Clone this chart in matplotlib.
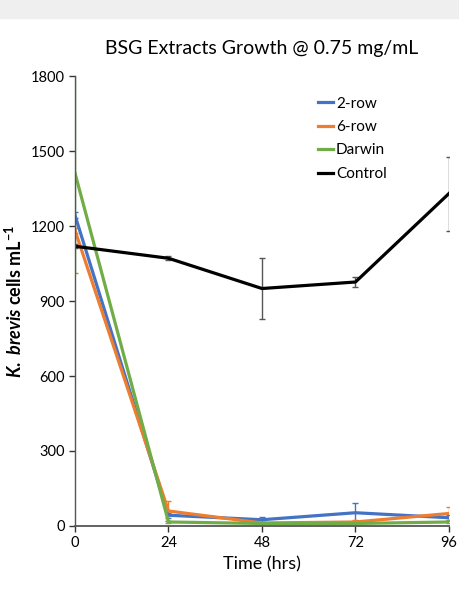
import numpy as np
import matplotlib
matplotlib.use("Agg")
import matplotlib.pyplot as plt
from matplotlib.patches import Rectangle
from matplotlib.lines import Line2D

plt.rcParams["font.family"] = ["Lato", "DejaVu Sans"]
plt.rcParams["mathtext.fontset"] = "custom"
plt.rcParams["mathtext.rm"] = "Lato:bold"
plt.rcParams["mathtext.it"] = "Lato:italic:bold"

hours = [0, 24, 48, 72, 96]

row2 = [1243, 43, 25, 53, 33]
row2_err = [12, 10, 11, 37, 10]
row6 = [1183, 60, 12, 16, 50]
row6_err = [10, 40, 5, 6, 26]
darwin = [1412, 16, 10, 10, 16]
darwin_err = [400, 5, 4, 3, 4]
control = [1119, 1071, 950, 976, 1330]
control_err = [8, 8, 122, 20, 148]

series = [
  ("2-row", row2, row2_err, "#4472C4"),
  ("6-row", row6, row6_err, "#ED7D31"),
  ("Darwin", darwin, darwin_err, "#70AD47"),
  ("Control", control, control_err, "black"),
]

fig = plt.figure(figsize=(4.6, 5.94), dpi=100)
fig.patches.append(Rectangle((0, 0.97), 1, 0.03, transform=fig.transFigure,
                             color="#efefef", zorder=0))
ax = fig.add_axes([0.163, 0.1145, 0.813, 0.7575])

handles = []
for name, vals, err, col in series:
  ecol = "#555555" if col == "black" else col
  ax.errorbar(hours, vals, yerr=err, color=col, lw=2.3, ecolor=ecol,
              elinewidth=1, capsize=2, capthick=1)
  handles.append(Line2D([], [], color=col, lw=2.3, label=name))

ax.set_xlim(0, 96)
ax.set_ylim(0, 1800)
ax.set_xticks(hours)
ax.set_yticks(np.arange(0, 1801, 300))
ax.tick_params(colors="#333333", labelsize=10.5, length=4, width=1)
for tl in ax.get_xticklabels() + ax.get_yticklabels():
  tl.set_color("black")
for s in ["top", "right"]:
  ax.spines[s].set_visible(False)
for s in ["left", "bottom"]:
  ax.spines[s].set_color("#555555")
ax.spines["left"].set_linewidth(1)
ax.spines["bottom"].set_linewidth(1.3)

ax.set_xlabel("Time (hrs)", fontsize=13)
ax.set_ylabel(r"$\mathit{K.\ brevis}$ cells mL$^{-1}$", fontsize=13, labelpad=4,
              fontweight="bold")
ax.set_title("BSG Extracts Growth @ 0.75 mg/mL", fontsize=14, pad=16)

ax.legend(handles=handles, loc="upper right", bbox_to_anchor=(0.87, 0.985), frameon=False,
          fontsize=11, handlelength=1.0, handletextpad=0.2, labelspacing=0.62)

fig.savefig("out.png", dpi=100)
